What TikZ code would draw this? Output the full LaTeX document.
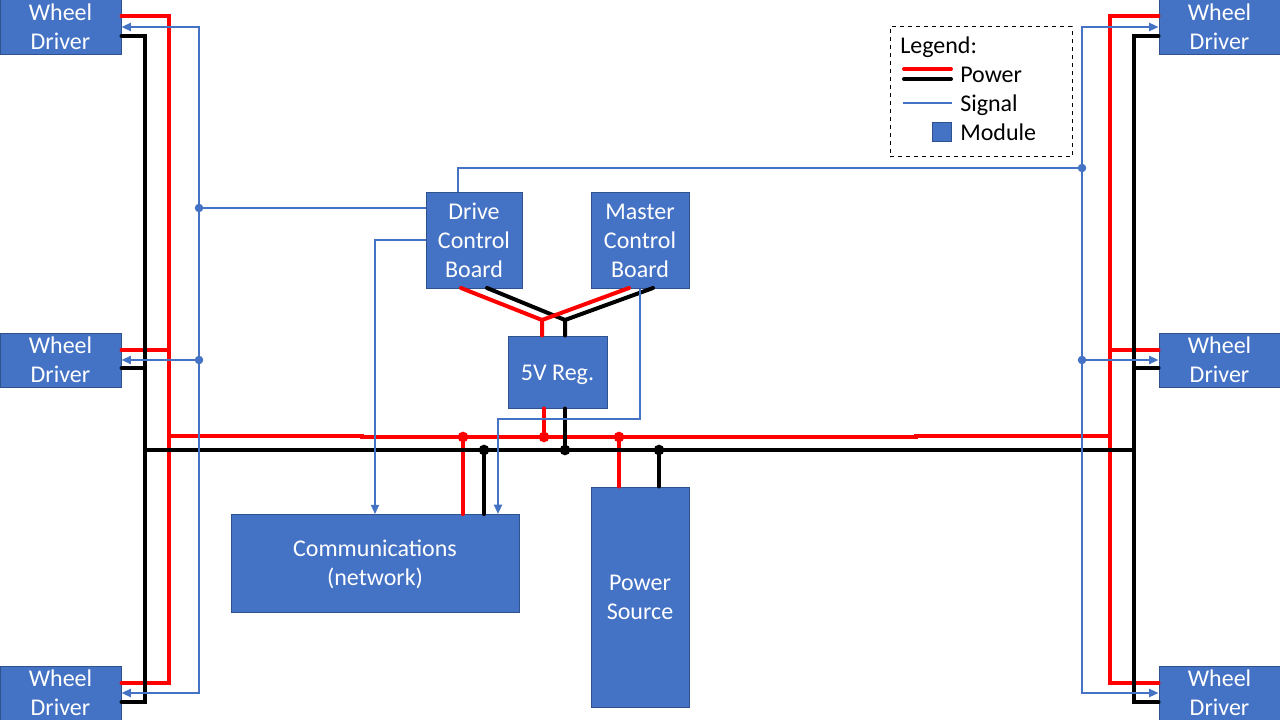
\documentclass[tikz,border=0pt]{standalone}
\usepackage{fontspec}
\setmainfont{Carlito}
\usetikzlibrary{arrows.meta,positioning,calc}

\definecolor{modfill}{HTML}{4472C4}
\definecolor{modedge}{HTML}{2F528F}

\tikzset{
    module/.style={draw=modedge, line width=0.75pt, fill=modfill, text=white, align=center, inner sep=0pt},
    power/.style={red, line width=3pt, line cap=round},
    ground/.style={black, line width=3pt, line cap=round},
    signal/.style={modfill, line width=1.5pt},
    legtext/.style={anchor=base west, inner sep=0pt, text=black}
}

\begin{document}
\begin{tikzpicture}[
    x=0.75pt, y=-0.75pt,
    >={Triangle[length=7pt,width=6pt]},
    font=\fontsize{18}{21.75}\selectfont
]
    \useasboundingbox (0,0) rectangle (1280,720);

    % --- modules ---
    \node[module, minimum width=90.75pt, minimum height=41.25pt] (wdTL) at (60.5,27) {Wheel\\Driver};
    \node[module, minimum width=90.75pt, minimum height=40.5pt] (wdML) at (60.5,360) {Wheel\\Driver};
    \node[module, minimum width=90.75pt, minimum height=40.5pt] (wdBL) at (60.5,693) {Wheel\\Driver};
    \node[module, minimum width=90.75pt, minimum height=41.25pt] (wdTR) at (1219.5,27) {Wheel\\Driver};
    \node[module, minimum width=90.75pt, minimum height=40.5pt] (wdMR) at (1219.5,360) {Wheel\\Driver};
    \node[module, minimum width=90.75pt, minimum height=40.5pt] (wdBR) at (1219.5,693) {Wheel\\Driver};
    \node[module, minimum width=72pt, minimum height=71.5pt] (drive) at (474,240.4) {Drive\\Control\\Board};
    \node[module, minimum width=73.5pt, minimum height=71.5pt] (master) at (640,240.6) {Master\\Control\\Board};
    \node[module, minimum width=74.25pt, minimum height=54pt, text height=12pt, text depth=0pt] (reg) at (557.5,372) {5V Reg.};
    \node[module, minimum width=216pt, minimum height=73.5pt] (comm) at (375,563.6) {\rule{0pt}{14pt}Communications\\(network)};
    \node[module, minimum width=73.5pt, minimum height=165pt] (source) at (640,597) {Power\\Source};

    % --- junctions ---
    \coordinate (rMerge) at (542,320);
    \coordinate (bMerge) at (565,320);
    \coordinate (rComm) at (463,437);
    \coordinate (rReg) at (544,437);
    \coordinate (rSource) at (619,437);
    \coordinate (bComm) at (484,450);
    \coordinate (bReg) at (565,450);
    \coordinate (bSource) at (659,450);
    \coordinate (sDriveL) at (199,208);
    \coordinate (sMidL) at (199,360);
    \coordinate (sDriveR) at (1082,168);
    \coordinate (sMidR) at (1082,360);

    % --- red power rails ---
    \draw[power] (wdTL.east |- 0,16) -- (169,16) -- (169,683) -- (wdBL.east |- 0,683);
    \draw[power] (wdML.east |- 0,350) -- (169,350);
    \draw[power] (wdTR.west |- 0,16) -- (1110,16) -- (1110,683) -- (wdBR.west |- 0,683);
    \draw[power] (wdMR.west |- 0,350) -- (1110,350);
    \draw[power] (169,436) -- (362,436) -- (362,437) -- (916,437) -- (916,436) -- (1110,436);
    \draw[power] (rComm) -- (rComm |- comm.north);
    \draw[power] (rReg) -- (rReg |- reg.south);
    \draw[power] (rSource) -- (rSource |- source.north);

    % --- black power rails ---
    \draw[ground] (wdTL.east |- 0,36) -- (145,36) -- (145,702) -- (wdBL.east |- 0,702);
    \draw[ground] (wdML.east |- 0,368) -- (145,368);
    \draw[ground] (wdTR.west |- 0,36) -- (1134,36) -- (1134,702) -- (wdBR.west |- 0,702);
    \draw[ground] (wdMR.west |- 0,368) -- (1134,368);
    \draw[ground] (145,450) -- (1134,450);
    \draw[ground] (bComm) -- (bComm |- comm.north);
    \draw[ground] (bReg) -- (bReg |- reg.south);
    \draw[ground] (bSource) -- (bSource |- source.north);

    % --- board feeds, black under red ---
    \draw[ground] (487,288) -- (bMerge) -- (bMerge |- reg.north);
    \draw[ground] (653,288) -- (bMerge);
    \draw[power] (461,288) -- (rMerge) -- (rMerge |- reg.north);
    \draw[power] (629,288) -- (rMerge);

    % --- junction dots ---
    \fill[red] (rComm) circle (4pt);
    \fill[red] (rReg) circle (4pt);
    \fill[red] (rSource) circle (4pt);
    \fill[black] (bComm) circle (4pt);
    \fill[black] (bReg) circle (4pt);
    \fill[black] (bSource) circle (4pt);

    % --- signal lines ---
    \draw[signal, <->] (wdTL.east) -- (199,27) -- (199,693) -- (wdBL.east);
    \draw[signal, ->] (sMidL) -- (wdML.east);
    \draw[signal] (drive.west |- sDriveL) -- (sDriveL);
    \draw[signal, <->] (wdTR.west) -- (1082,27) -- (1082,693) -- (wdBR.west);
    \draw[signal, ->] (sMidR) -- (wdMR.west);
    \draw[signal] (458,192) -- (458,168) -- (sDriveR);
    \draw[signal, ->] (drive.west) -- (375,240.4) -- (comm.north);
    \draw[signal, ->] (master.south) -- (640,419) -- (498,419) -- (498,514);

    \fill[modfill] (sDriveL) circle (3.2pt);
    \fill[modfill] (sMidL) circle (3.2pt);
    \fill[modfill] (sDriveR) circle (3.2pt);
    \fill[modfill] (sMidR) circle (3.2pt);

    % --- legend ---
    \node[draw, dashed, line width=0.75pt, minimum width=136.5pt, minimum height=97.5pt, inner sep=0pt] (legend) at (981,92) {};
    \node[legtext] (legTitle) at (900,53.5) {Legend:};
    \node[legtext] (legPower) at (960,82.5) {Power};
    \node[legtext] (legSignal) at (960,111.5) {Signal};
    \node[legtext] (legModule) at (960,140.5) {Module};
    \node[module, minimum width=14.25pt, minimum height=14.25pt] (legBox) at (941.5,132) {};
    \coordinate (legA) at (904,69);
    \coordinate (legB) at (904,79);
    \coordinate (legC) at (903,103);
    \draw[power] (legA) -- (951,69);
    \draw[ground] (legB) -- (951,79);
    \draw[signal] (legC) -- (952,103);
\end{tikzpicture}
\end{document}
